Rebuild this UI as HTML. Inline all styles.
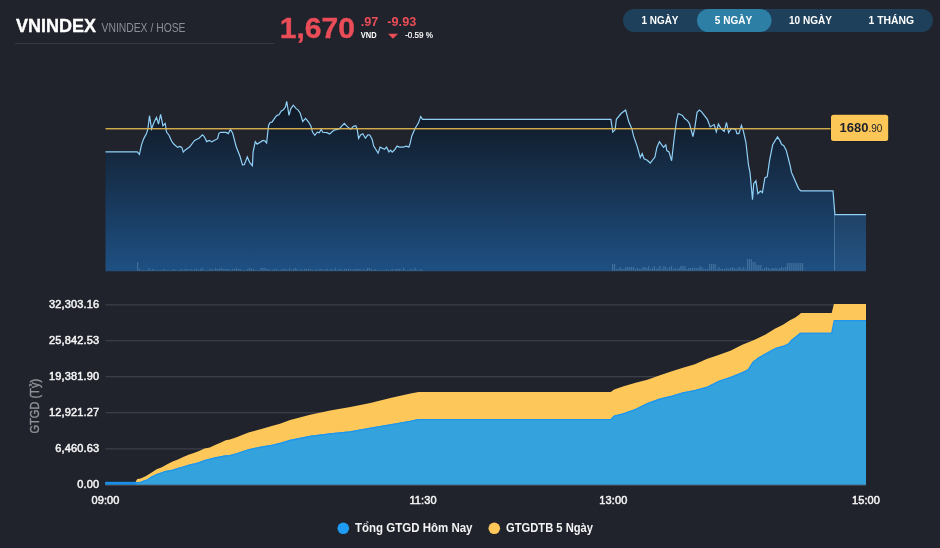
<!DOCTYPE html>
<html lang="vi">
<head>
<meta charset="utf-8">
<title>VNINDEX</title>
<style>
html,body{margin:0;padding:0;background:#20232c;}
body{width:940px;height:548px;overflow:hidden;font-family:"Liberation Sans",sans-serif;}
svg{display:block}
text{font-family:"Liberation Sans",sans-serif}
.ax{font-size:11px;fill:#f4f4f4;stroke:#f4f4f4;stroke-width:.5px;paint-order:stroke;letter-spacing:.14px}
</style>
</head>
<body>
<svg width="940" height="548" viewBox="0 0 940 548">
<defs>
<linearGradient id="ga" gradientUnits="userSpaceOnUse" x1="0" y1="100" x2="0" y2="271">
<stop offset="0" stop-color="#10151f"/><stop offset="1" stop-color="#1e5083"/>
</linearGradient>
</defs>
<rect width="940" height="548" fill="#20232c"/>

<!-- header -->
<text x="16" y="31.8" font-size="18.7px" font-weight="700" fill="#ffffff" stroke="#ffffff" stroke-width=".35" textLength="80" lengthAdjust="spacingAndGlyphs">VNINDEX</text>
<text x="101.5" y="32" font-size="12px" fill="#8b8e95" textLength="84" lengthAdjust="spacingAndGlyphs">VNINDEX / HOSE</text>
<rect x="15" y="43" width="259" height="1" fill="#373a43"/>
<text x="279.8" y="37.9" font-size="29.2px" font-weight="700" fill="#ea4d58" stroke="#ea4d58" stroke-width=".4" textLength="75.2" lengthAdjust="spacingAndGlyphs">1,670</text>
<text x="360.8" y="26" font-size="12px" font-weight="700" fill="#ea4d58" textLength="17.6" lengthAdjust="spacingAndGlyphs">.97</text>
<text x="360.8" y="38" font-size="8.2px" font-weight="700" fill="#ffffff" textLength="15.8" lengthAdjust="spacingAndGlyphs">VND</text>
<text x="387.3" y="26" font-size="12px" font-weight="700" fill="#ea4d58" textLength="29" lengthAdjust="spacingAndGlyphs">-9.93</text>
<path d="M388 33.8 L398 33.8 L393 38.8 Z" fill="#ea4d58"/>
<text x="405.2" y="38" font-size="8.2px" fill="#ffffff" stroke="#ffffff" stroke-width=".2" textLength="27.8" lengthAdjust="spacingAndGlyphs">-0.59 %</text>

<!-- range buttons -->
<rect x="623" y="9" width="310" height="23" rx="11.5" fill="#1e405a"/>
<rect x="697" y="9" width="74.5" height="23" rx="11.5" fill="#2e7fa6"/>
<g font-size="11px" font-weight="700" fill="#ffffff" text-anchor="middle">
<text x="660" y="24" textLength="37" lengthAdjust="spacingAndGlyphs">1 NGÀY</text>
<text x="733.5" y="24" textLength="37.4" lengthAdjust="spacingAndGlyphs">5 NGÀY</text>
<text x="810.5" y="24" textLength="43" lengthAdjust="spacingAndGlyphs">10 NGÀY</text>
<text x="891.4" y="24" textLength="45.6" lengthAdjust="spacingAndGlyphs">1 THÁNG</text>
</g>

<!-- top chart -->
<polygon points="105.5,151.8 137.3,151.8 139.4,154.4 141.5,144.8 143.5,139.1 146.6,133.3 147.9,128.9 149.5,115.7 151.5,128.9 154.3,121.8 156.5,117.4 158.5,124.1 160.6,114.4 162.9,125.7 165.2,123.4 166.5,132.0 169.0,135.2 171.6,141.0 173.5,143.8 177.6,147.4 179.9,146.4 181.8,147.4 183.3,152.1 185.0,150.2 189.5,147.1 194.6,140.4 199.0,138.2 202.5,134.9 204.2,136.5 206.7,141.6 209.3,140.4 211.8,141.9 217.6,138.7 218.9,133.3 220.9,132.3 226.0,132.4 228.3,133.6 230.4,129.5 232.7,133.3 236.2,146.8 240.0,156.3 242.5,164.9 244.3,164.6 247.3,156.9 249.8,162.7 252.4,165.7 253.1,151.8 255.3,141.6 257.1,144.1 263.0,140.5 264.8,140.8 266.6,143.0 268.5,125.7 270.1,122.5 272.0,122.1 275.2,117.4 277.1,115.4 279.0,114.8 281.3,111.0 283.5,109.7 285.4,107.1 286.7,101.4 289.0,115.4 290.8,108.8 293.3,105.2 295.9,108.4 298.2,110.1 300.1,112.9 302.7,121.5 305.6,118.3 308.4,121.8 311.0,126.3 312.5,132.1 314.8,135.3 317.3,132.1 319.3,132.7 321.2,129.2 322.7,132.3 327.0,132.7 329.6,134.0 334.1,130.1 339.2,128.9 344.3,123.4 347.5,126.9 350.7,129.2 353.5,126.3 355.8,125.7 357.1,128.9 358.6,138.4 360.6,134.9 362.8,133.7 365.4,138.2 367.9,134.9 369.8,135.0 372.1,139.1 373.7,146.1 378.1,153.1 380.1,147.1 384.5,149.3 386.5,147.1 389.0,151.9 390.7,150.2 392.2,152.1 394.4,150.0 397.1,146.1 399.2,147.1 403.1,147.1 406.6,146.1 408.8,147.1 410.1,143.6 411.8,135.9 415.2,128.2 418.4,123.1 420.7,116.5 422.6,119.4 610.9,119.4 612.8,132.1 615.1,129.8 616.4,119.3 621.1,113.5 625.6,110.1 628.8,121.8 631.9,128.9 633.5,135.9 637.1,146.1 640.3,157.6 642.2,153.5 644.1,158.9 647.3,160.2 650.2,163.0 654.9,157.0 656.9,147.4 659.4,141.6 663.5,147.4 665.8,144.8 666.8,150.6 669.0,151.9 671.6,160.8 674.8,133.3 676.7,119.9 678.2,113.5 682.4,115.4 684.6,118.6 687.5,120.6 689.5,123.8 692.9,136.5 694.6,128.9 697.1,112.3 699.4,110.1 701.6,111.9 707.3,119.3 710.2,126.9 714.1,124.6 716.3,131.8 718.4,124.1 721.0,128.5 724.2,131.4 726.5,122.5 728.6,132.7 731.2,128.5 735.7,129.5 736.9,133.7 738.9,133.7 741.4,125.4 743.3,130.8 745.9,142.3 748.5,165.0 750.0,172.4 752.5,199.7 753.7,183.7 755.9,180.7 757.9,193.7 760.4,191.1 762.4,192.6 764.9,177.7 767.2,176.9 769.7,159.7 772.7,144.8 777.5,136.9 779.8,140.4 781.7,144.6 783.6,145.5 786.2,150.2 790.0,165.0 791.5,172.4 794.8,179.9 798.6,188.6 800.8,190.8 833.0,190.8 834.9,214.6 866.0,214.6 866,271 105.5,271" fill="url(#ga)"/>
<g fill="#9fc4e6" fill-opacity=".28"><rect x="137.0" y="262" width="1.2" height="9"/><rect x="138.9" y="269" width="1.2" height="2"/><rect x="140.8" y="270" width="1.2" height="1"/><rect x="142.7" y="270" width="1.2" height="1"/><rect x="144.6" y="270" width="1.2" height="1"/><rect x="146.5" y="270" width="1.2" height="1"/><rect x="148.4" y="268" width="1.2" height="3"/><rect x="150.3" y="270" width="1.2" height="1"/><rect x="152.2" y="269" width="1.2" height="2"/><rect x="154.1" y="270" width="1.2" height="1"/><rect x="156.0" y="270" width="1.2" height="1"/><rect x="157.9" y="270" width="1.2" height="1"/><rect x="159.8" y="270" width="1.2" height="1"/><rect x="161.7" y="270" width="1.2" height="1"/><rect x="163.6" y="269" width="1.2" height="2"/><rect x="165.5" y="270" width="1.2" height="1"/><rect x="167.4" y="270" width="1.2" height="1"/><rect x="169.3" y="270" width="1.2" height="1"/><rect x="171.2" y="270" width="1.2" height="1"/><rect x="173.1" y="269" width="1.2" height="2"/><rect x="175.0" y="270" width="1.2" height="1"/><rect x="176.9" y="270" width="1.2" height="1"/><rect x="178.8" y="270" width="1.2" height="1"/><rect x="180.7" y="269" width="1.2" height="2"/><rect x="182.6" y="270" width="1.2" height="1"/><rect x="184.5" y="269" width="1.2" height="2"/><rect x="186.4" y="269" width="1.2" height="2"/><rect x="188.3" y="270" width="1.2" height="1"/><rect x="190.2" y="269" width="1.2" height="2"/><rect x="192.1" y="270" width="1.2" height="1"/><rect x="194.0" y="269" width="1.2" height="2"/><rect x="195.9" y="269" width="1.2" height="2"/><rect x="197.8" y="270" width="1.2" height="1"/><rect x="199.7" y="269" width="1.2" height="2"/><rect x="201.6" y="268" width="1.2" height="3"/><rect x="203.5" y="270" width="1.2" height="1"/><rect x="205.4" y="270" width="1.2" height="1"/><rect x="207.3" y="270" width="1.2" height="1"/><rect x="209.2" y="269" width="1.2" height="2"/><rect x="211.1" y="269" width="1.2" height="2"/><rect x="213.0" y="270" width="1.2" height="1"/><rect x="214.9" y="268" width="1.2" height="3"/><rect x="216.8" y="269" width="1.2" height="2"/><rect x="218.7" y="269" width="1.2" height="2"/><rect x="220.6" y="268" width="1.2" height="3"/><rect x="222.5" y="269" width="1.2" height="2"/><rect x="224.4" y="269" width="1.2" height="2"/><rect x="226.3" y="269" width="1.2" height="2"/><rect x="228.2" y="269" width="1.2" height="2"/><rect x="230.1" y="270" width="1.2" height="1"/><rect x="232.0" y="269" width="1.2" height="2"/><rect x="233.9" y="269" width="1.2" height="2"/><rect x="235.8" y="268" width="1.2" height="3"/><rect x="237.7" y="269" width="1.2" height="2"/><rect x="239.6" y="269" width="1.2" height="2"/><rect x="241.5" y="270" width="1.2" height="1"/><rect x="243.4" y="270" width="1.2" height="1"/><rect x="245.3" y="270" width="1.2" height="1"/><rect x="247.2" y="269" width="1.2" height="2"/><rect x="249.1" y="268" width="1.2" height="3"/><rect x="251.0" y="269" width="1.2" height="2"/><rect x="252.9" y="269" width="1.2" height="2"/><rect x="254.8" y="270" width="1.2" height="1"/><rect x="256.7" y="270" width="1.2" height="1"/><rect x="258.6" y="270" width="1.2" height="1"/><rect x="260.5" y="268" width="1.2" height="3"/><rect x="262.4" y="268" width="1.2" height="3"/><rect x="264.3" y="268" width="1.2" height="3"/><rect x="266.2" y="269" width="1.2" height="2"/><rect x="268.1" y="269" width="1.2" height="2"/><rect x="270.0" y="270" width="1.2" height="1"/><rect x="271.9" y="270" width="1.2" height="1"/><rect x="273.8" y="269" width="1.2" height="2"/><rect x="275.7" y="269" width="1.2" height="2"/><rect x="277.6" y="270" width="1.2" height="1"/><rect x="279.5" y="270" width="1.2" height="1"/><rect x="281.4" y="269" width="1.2" height="2"/><rect x="283.3" y="269" width="1.2" height="2"/><rect x="285.2" y="269" width="1.2" height="2"/><rect x="287.1" y="270" width="1.2" height="1"/><rect x="289.0" y="268" width="1.2" height="3"/><rect x="290.9" y="270" width="1.2" height="1"/><rect x="292.8" y="269" width="1.2" height="2"/><rect x="294.7" y="268" width="1.2" height="3"/><rect x="296.6" y="269" width="1.2" height="2"/><rect x="298.5" y="270" width="1.2" height="1"/><rect x="300.4" y="269" width="1.2" height="2"/><rect x="302.3" y="270" width="1.2" height="1"/><rect x="304.2" y="269" width="1.2" height="2"/><rect x="306.1" y="269" width="1.2" height="2"/><rect x="308.0" y="269" width="1.2" height="2"/><rect x="309.9" y="269" width="1.2" height="2"/><rect x="311.8" y="270" width="1.2" height="1"/><rect x="313.7" y="270" width="1.2" height="1"/><rect x="315.6" y="269" width="1.2" height="2"/><rect x="317.5" y="270" width="1.2" height="1"/><rect x="319.4" y="269" width="1.2" height="2"/><rect x="321.3" y="269" width="1.2" height="2"/><rect x="323.2" y="270" width="1.2" height="1"/><rect x="325.1" y="269" width="1.2" height="2"/><rect x="327.0" y="269" width="1.2" height="2"/><rect x="328.9" y="270" width="1.2" height="1"/><rect x="330.8" y="269" width="1.2" height="2"/><rect x="332.7" y="270" width="1.2" height="1"/><rect x="334.6" y="268" width="1.2" height="3"/><rect x="336.5" y="270" width="1.2" height="1"/><rect x="338.4" y="269" width="1.2" height="2"/><rect x="340.3" y="269" width="1.2" height="2"/><rect x="342.2" y="270" width="1.2" height="1"/><rect x="344.1" y="269" width="1.2" height="2"/><rect x="346.0" y="269" width="1.2" height="2"/><rect x="347.9" y="269" width="1.2" height="2"/><rect x="349.8" y="269" width="1.2" height="2"/><rect x="351.7" y="270" width="1.2" height="1"/><rect x="353.6" y="269" width="1.2" height="2"/><rect x="355.5" y="269" width="1.2" height="2"/><rect x="357.4" y="269" width="1.2" height="2"/><rect x="359.3" y="269" width="1.2" height="2"/><rect x="361.2" y="270" width="1.2" height="1"/><rect x="363.1" y="269" width="1.2" height="2"/><rect x="365.0" y="270" width="1.2" height="1"/><rect x="366.9" y="268" width="1.2" height="3"/><rect x="368.8" y="268" width="1.2" height="3"/><rect x="370.7" y="269" width="1.2" height="2"/><rect x="372.6" y="270" width="1.2" height="1"/><rect x="374.5" y="269" width="1.2" height="2"/><rect x="376.4" y="270" width="1.2" height="1"/><rect x="378.3" y="270" width="1.2" height="1"/><rect x="380.2" y="270" width="1.2" height="1"/><rect x="382.1" y="270" width="1.2" height="1"/><rect x="384.0" y="270" width="1.2" height="1"/><rect x="385.9" y="269" width="1.2" height="2"/><rect x="387.8" y="270" width="1.2" height="1"/><rect x="389.7" y="270" width="1.2" height="1"/><rect x="391.6" y="269" width="1.2" height="2"/><rect x="393.5" y="270" width="1.2" height="1"/><rect x="395.4" y="269" width="1.2" height="2"/><rect x="397.3" y="269" width="1.2" height="2"/><rect x="399.2" y="269" width="1.2" height="2"/><rect x="401.1" y="270" width="1.2" height="1"/><rect x="403.0" y="268" width="1.2" height="3"/><rect x="404.9" y="270" width="1.2" height="1"/><rect x="406.8" y="270" width="1.2" height="1"/><rect x="408.7" y="270" width="1.2" height="1"/><rect x="410.6" y="269" width="1.2" height="2"/><rect x="412.5" y="270" width="1.2" height="1"/><rect x="414.4" y="268" width="1.2" height="3"/><rect x="416.3" y="270" width="1.2" height="1"/><rect x="418.2" y="270" width="1.2" height="1"/><rect x="420.1" y="269" width="1.2" height="2"/><rect x="422.0" y="270" width="1.2" height="1"/><rect x="612.0" y="264" width="1.2" height="7"/><rect x="613.9" y="264" width="1.2" height="7"/><rect x="615.8" y="269" width="1.2" height="2"/><rect x="617.7" y="269" width="1.2" height="2"/><rect x="619.6" y="267" width="1.2" height="4"/><rect x="621.5" y="269" width="1.2" height="2"/><rect x="623.4" y="269" width="1.2" height="2"/><rect x="625.3" y="267" width="1.2" height="4"/><rect x="627.2" y="267" width="1.2" height="4"/><rect x="629.1" y="267" width="1.2" height="4"/><rect x="631.0" y="267" width="1.2" height="4"/><rect x="632.9" y="267" width="1.2" height="4"/><rect x="634.8" y="269" width="1.2" height="2"/><rect x="636.7" y="268" width="1.2" height="3"/><rect x="638.6" y="269" width="1.2" height="2"/><rect x="640.5" y="269" width="1.2" height="2"/><rect x="642.4" y="267" width="1.2" height="4"/><rect x="644.3" y="267" width="1.2" height="4"/><rect x="646.2" y="268" width="1.2" height="3"/><rect x="648.1" y="266" width="1.2" height="5"/><rect x="650.0" y="269" width="1.2" height="2"/><rect x="651.9" y="268" width="1.2" height="3"/><rect x="653.8" y="266" width="1.2" height="5"/><rect x="655.7" y="269" width="1.2" height="2"/><rect x="657.6" y="268" width="1.2" height="3"/><rect x="659.5" y="266" width="1.2" height="5"/><rect x="661.4" y="269" width="1.2" height="2"/><rect x="663.3" y="266" width="1.2" height="5"/><rect x="665.2" y="267" width="1.2" height="4"/><rect x="667.1" y="269" width="1.2" height="2"/><rect x="669.0" y="267" width="1.2" height="4"/><rect x="670.9" y="266" width="1.2" height="5"/><rect x="672.8" y="269" width="1.2" height="2"/><rect x="674.7" y="268" width="1.2" height="3"/><rect x="676.6" y="269" width="1.2" height="2"/><rect x="678.5" y="268" width="1.2" height="3"/><rect x="680.4" y="266" width="1.2" height="5"/><rect x="682.3" y="266" width="1.2" height="5"/><rect x="684.2" y="266" width="1.2" height="5"/><rect x="686.1" y="269" width="1.2" height="2"/><rect x="688.0" y="268" width="1.2" height="3"/><rect x="689.9" y="268" width="1.2" height="3"/><rect x="691.8" y="268" width="1.2" height="3"/><rect x="693.7" y="268" width="1.2" height="3"/><rect x="695.6" y="268" width="1.2" height="3"/><rect x="697.5" y="268" width="1.2" height="3"/><rect x="699.4" y="266" width="1.2" height="5"/><rect x="701.3" y="267" width="1.2" height="4"/><rect x="703.2" y="269" width="1.2" height="2"/><rect x="705.1" y="269" width="1.2" height="2"/><rect x="707.0" y="269" width="1.2" height="2"/><rect x="708.9" y="264" width="1.2" height="7"/><rect x="710.8" y="264" width="1.2" height="7"/><rect x="712.7" y="264" width="1.2" height="7"/><rect x="714.6" y="264" width="1.2" height="7"/><rect x="716.5" y="269" width="1.2" height="2"/><rect x="718.4" y="267" width="1.2" height="4"/><rect x="720.3" y="269" width="1.2" height="2"/><rect x="722.2" y="269" width="1.2" height="2"/><rect x="724.1" y="269" width="1.2" height="2"/><rect x="726.0" y="268" width="1.2" height="3"/><rect x="727.9" y="269" width="1.2" height="2"/><rect x="729.8" y="268" width="1.2" height="3"/><rect x="731.7" y="267" width="1.2" height="4"/><rect x="733.6" y="268" width="1.2" height="3"/><rect x="735.5" y="269" width="1.2" height="2"/><rect x="737.4" y="268" width="1.2" height="3"/><rect x="739.3" y="267" width="1.2" height="4"/><rect x="741.2" y="269" width="1.2" height="2"/><rect x="743.1" y="267" width="1.2" height="4"/><rect x="745.0" y="269" width="1.2" height="2"/><rect x="746.9" y="259" width="1.2" height="12"/><rect x="748.8" y="259" width="1.2" height="12"/><rect x="750.7" y="259" width="1.2" height="12"/><rect x="752.6" y="262" width="1.2" height="9"/><rect x="754.5" y="262" width="1.2" height="9"/><rect x="756.4" y="265" width="1.2" height="6"/><rect x="758.3" y="265" width="1.2" height="6"/><rect x="760.2" y="265" width="1.2" height="6"/><rect x="762.1" y="269" width="1.2" height="2"/><rect x="764.0" y="268" width="1.2" height="3"/><rect x="765.9" y="267" width="1.2" height="4"/><rect x="767.8" y="268" width="1.2" height="3"/><rect x="769.7" y="269" width="1.2" height="2"/><rect x="771.6" y="268" width="1.2" height="3"/><rect x="773.5" y="268" width="1.2" height="3"/><rect x="775.4" y="268" width="1.2" height="3"/><rect x="777.3" y="269" width="1.2" height="2"/><rect x="779.2" y="268" width="1.2" height="3"/><rect x="781.1" y="267" width="1.2" height="4"/><rect x="783.0" y="268" width="1.2" height="3"/><rect x="784.9" y="267" width="1.2" height="4"/><rect x="786.8" y="263" width="1.2" height="8"/><rect x="788.7" y="263" width="1.2" height="8"/><rect x="790.6" y="263" width="1.2" height="8"/><rect x="792.5" y="263" width="1.2" height="8"/><rect x="794.4" y="263" width="1.2" height="8"/><rect x="796.3" y="263" width="1.2" height="8"/><rect x="798.2" y="263" width="1.2" height="8"/><rect x="800.1" y="263" width="1.2" height="8"/><rect x="802.0" y="263" width="1.2" height="8"/></g>
<rect x="834.5" y="214.6" width="31.5" height="56.4" fill="#ffffff" fill-opacity=".028"/><rect x="834" y="215" width="1" height="56" fill="#7fb4dc" fill-opacity=".4"/>
<rect x="105.5" y="270.5" width="760.5" height="1" fill="#2a4a6a" fill-opacity=".6"/>
<polyline points="105.5,151.8 137.3,151.8 139.4,154.4 141.5,144.8 143.5,139.1 146.6,133.3 147.9,128.9 149.5,115.7 151.5,128.9 154.3,121.8 156.5,117.4 158.5,124.1 160.6,114.4 162.9,125.7 165.2,123.4 166.5,132.0 169.0,135.2 171.6,141.0 173.5,143.8 177.6,147.4 179.9,146.4 181.8,147.4 183.3,152.1 185.0,150.2 189.5,147.1 194.6,140.4 199.0,138.2 202.5,134.9 204.2,136.5 206.7,141.6 209.3,140.4 211.8,141.9 217.6,138.7 218.9,133.3 220.9,132.3 226.0,132.4 228.3,133.6 230.4,129.5 232.7,133.3 236.2,146.8 240.0,156.3 242.5,164.9 244.3,164.6 247.3,156.9 249.8,162.7 252.4,165.7 253.1,151.8 255.3,141.6 257.1,144.1 263.0,140.5 264.8,140.8 266.6,143.0 268.5,125.7 270.1,122.5 272.0,122.1 275.2,117.4 277.1,115.4 279.0,114.8 281.3,111.0 283.5,109.7 285.4,107.1 286.7,101.4 289.0,115.4 290.8,108.8 293.3,105.2 295.9,108.4 298.2,110.1 300.1,112.9 302.7,121.5 305.6,118.3 308.4,121.8 311.0,126.3 312.5,132.1 314.8,135.3 317.3,132.1 319.3,132.7 321.2,129.2 322.7,132.3 327.0,132.7 329.6,134.0 334.1,130.1 339.2,128.9 344.3,123.4 347.5,126.9 350.7,129.2 353.5,126.3 355.8,125.7 357.1,128.9 358.6,138.4 360.6,134.9 362.8,133.7 365.4,138.2 367.9,134.9 369.8,135.0 372.1,139.1 373.7,146.1 378.1,153.1 380.1,147.1 384.5,149.3 386.5,147.1 389.0,151.9 390.7,150.2 392.2,152.1 394.4,150.0 397.1,146.1 399.2,147.1 403.1,147.1 406.6,146.1 408.8,147.1 410.1,143.6 411.8,135.9 415.2,128.2 418.4,123.1 420.7,116.5 422.6,119.4 610.9,119.4 612.8,132.1 615.1,129.8 616.4,119.3 621.1,113.5 625.6,110.1 628.8,121.8 631.9,128.9 633.5,135.9 637.1,146.1 640.3,157.6 642.2,153.5 644.1,158.9 647.3,160.2 650.2,163.0 654.9,157.0 656.9,147.4 659.4,141.6 663.5,147.4 665.8,144.8 666.8,150.6 669.0,151.9 671.6,160.8 674.8,133.3 676.7,119.9 678.2,113.5 682.4,115.4 684.6,118.6 687.5,120.6 689.5,123.8 692.9,136.5 694.6,128.9 697.1,112.3 699.4,110.1 701.6,111.9 707.3,119.3 710.2,126.9 714.1,124.6 716.3,131.8 718.4,124.1 721.0,128.5 724.2,131.4 726.5,122.5 728.6,132.7 731.2,128.5 735.7,129.5 736.9,133.7 738.9,133.7 741.4,125.4 743.3,130.8 745.9,142.3 748.5,165.0 750.0,172.4 752.5,199.7 753.7,183.7 755.9,180.7 757.9,193.7 760.4,191.1 762.4,192.6 764.9,177.7 767.2,176.9 769.7,159.7 772.7,144.8 777.5,136.9 779.8,140.4 781.7,144.6 783.6,145.5 786.2,150.2 790.0,165.0 791.5,172.4 794.8,179.9 798.6,188.6 800.8,190.8 833.0,190.8 834.9,214.6 866.0,214.6" fill="none" stroke="#8fd0f7" stroke-width="1.2" stroke-linejoin="miter"/>
<rect x="105.5" y="128.1" width="726" height="1.3" fill="#e6b84e"/>
<rect x="830.6" y="114.3" width="58" height="27.2" rx="3" fill="#171a22"/><rect x="831" y="114.7" width="57.2" height="26.4" rx="2.5" fill="#fdc757"/>
<text x="839.6" y="132.3" font-size="13px" font-weight="700" fill="#20232c">1680<tspan font-size="10px" font-weight="400">.90</tspan></text>

<!-- bottom chart -->
<g fill="#40434b"><rect x="105.5" y="304.35" width="760.5" height="1.1"/><rect x="105.5" y="340.20" width="760.5" height="1.1"/><rect x="105.5" y="376.15" width="760.5" height="1.1"/><rect x="105.5" y="412.15" width="760.5" height="1.1"/><rect x="105.5" y="448.35" width="760.5" height="1.1"/></g>
<polygon points="105.5,484.5 135.5,484.5 135.9,481.0 137.4,479.1 140.6,478.6 146.0,476.0 151.3,472.8 156.6,469.3 161.9,467.2 167.2,464.3 172.6,461.6 177.9,459.5 183.2,457.1 188.5,454.7 193.8,453.1 199.1,451.0 204.5,448.6 209.8,447.6 215.1,445.1 220.4,442.7 225.7,440.3 230.0,439.5 236.5,437.2 248.5,432.6 260.5,429.2 272.6,425.8 280.0,423.7 290.1,420.1 310.1,414.7 330.2,410.5 350.3,407.1 370.3,403.1 390.4,398.1 410.5,393.6 418.5,392.0 610.7,392.0 614.2,389.4 623.7,386.3 635.6,382.7 647.4,379.7 659.3,375.6 671.1,371.4 683.0,367.8 694.9,364.2 706.7,359.0 718.6,355.0 730.4,350.7 742.3,344.8 754.1,340.1 766.0,334.2 774.8,328.8 783.0,324.8 789.5,320.4 795.3,317.6 799.4,314.6 801.0,313.0 831.7,313.0 833.9,304.0 866.0,304.0 866,485 105.5,485" fill="#fdc75a"/>
<polygon points="105.5,481.9 140.1,481.9 143.8,480.5 147.0,479.5 151.3,476.5 156.6,474.0 161.9,472.2 165.1,470.9 172.6,469.6 177.9,467.8 183.2,466.4 188.5,464.8 193.8,463.5 199.1,462.1 204.5,460.0 209.8,458.6 215.1,457.3 220.4,456.3 225.7,455.2 230.0,454.9 236.5,453.2 248.5,449.2 260.5,446.6 272.6,444.6 280.0,442.8 290.1,439.8 310.1,435.8 330.2,433.2 350.3,431.2 370.3,427.6 390.4,424.2 410.5,420.7 418.5,419.0 610.7,419.0 614.2,415.5 623.7,413.1 635.6,408.8 647.4,402.9 659.3,398.6 671.1,395.8 683.0,392.2 694.9,389.9 706.7,386.8 718.6,380.8 730.4,376.8 742.3,372.1 748.2,369.2 753.0,361.4 758.9,357.1 766.0,353.1 775.6,347.8 783.0,345.8 788.7,343.3 791.2,340.1 795.3,336.8 800.2,332.7 831.7,332.7 834.2,320.0 866.0,320.0 866,485 105.5,485" fill="#34a3dd"/>
<polyline points="105.5,481.9 140.1,481.9 143.8,480.5 147.0,479.5 151.3,476.5 156.6,474.0 161.9,472.2 165.1,470.9 172.6,469.6 177.9,467.8 183.2,466.4 188.5,464.8 193.8,463.5 199.1,462.1 204.5,460.0 209.8,458.6 215.1,457.3 220.4,456.3 225.7,455.2 230.0,454.9 236.5,453.2 248.5,449.2 260.5,446.6 272.6,444.6 280.0,442.8 290.1,439.8 310.1,435.8 330.2,433.2 350.3,431.2 370.3,427.6 390.4,424.2 410.5,420.7 418.5,419.0 610.7,419.0 614.2,415.5 623.7,413.1 635.6,408.8 647.4,402.9 659.3,398.6 671.1,395.8 683.0,392.2 694.9,389.9 706.7,386.8 718.6,380.8 730.4,376.8 742.3,372.1 748.2,369.2 753.0,361.4 758.9,357.1 766.0,353.1 775.6,347.8 783.0,345.8 788.7,343.3 791.2,340.1 795.3,336.8 800.2,332.7 831.7,332.7 834.2,320.0 866.0,320.0" transform="translate(0,0.7)" fill="none" stroke="#1f96ec" stroke-width="1.3"/>
<rect x="105.5" y="481.8" width="31" height="3" fill="#1a8fe8"/>
<rect x="105.5" y="484.7" width="760.5" height="1.2" fill="#42454d"/>

<g class="ax" text-anchor="end"><text x="99.2" y="308">32,303.16</text><text x="99.2" y="344">25,842.53</text><text x="99.2" y="380">19,381.90</text><text x="99.2" y="416">12,921.27</text><text x="99.2" y="452">6,460.63</text><text x="99.2" y="488">0.00</text></g>
<g class="ax" text-anchor="middle">
<text x="105.5" y="504">09:00</text>
<text x="423.1" y="504">11:30</text>
<text x="613.3" y="504">13:00</text>
<text x="866" y="504">15:00</text>
</g>
<text transform="translate(38.7,433.6) rotate(-90)" font-size="12px" fill="#8f9195" stroke="#8f9195" stroke-width=".4" textLength="54.7" lengthAdjust="spacingAndGlyphs">GTGD (Tỷ)</text>

<!-- legend -->
<circle cx="343.3" cy="528.3" r="5.8" fill="#1e9bf5"/>
<text x="355" y="532.2" font-size="13px" font-weight="700" fill="#f3f3f3" textLength="117.5" lengthAdjust="spacingAndGlyphs">Tổng GTGD Hôm Nay</text>
<circle cx="494.3" cy="528.3" r="5.8" fill="#fdc75a"/>
<text x="506" y="532.2" font-size="13px" font-weight="700" fill="#f3f3f3" textLength="87" lengthAdjust="spacingAndGlyphs">GTGDTB 5 Ngày</text>
</svg>
</body>
</html>
